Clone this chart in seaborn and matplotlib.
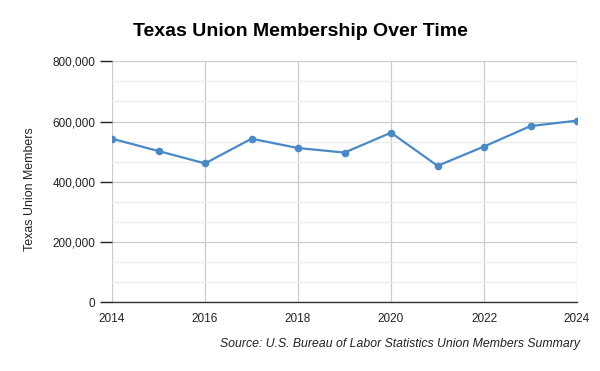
import matplotlib
matplotlib.use("Agg")
import matplotlib.pyplot as plt
import seaborn as sns
import pandas as pd
from matplotlib.ticker import FuncFormatter, MultipleLocator

years = [2014, 2015, 2016, 2017, 2018, 2019, 2020, 2021, 2022, 2023, 2024]
members = [543000, 502000, 461000, 543000, 512000, 497000, 563000, 453000, 517000, 585000, 603000]
y_ticks = [0, 200000, 400000, 600000, 800000]
x_ticks = [2014, 2016, 2018, 2020, 2022, 2024]

df = pd.DataFrame({"Year": years, "Members": members})

sns.set_theme(style="white")
plt.rcParams['font.family'] = ['Liberation Sans', 'DejaVu Sans']

fig = plt.figure(figsize=(6, 3.71), dpi=100)
ax = fig.add_axes([0.1867, 0.1852, 0.775, 0.6496])

sns.lineplot(data=df, x="Year", y="Members", ax=ax, color="#4a89c8",
             linewidth=1.6, marker="o", markersize=5.5, markeredgewidth=0, zorder=3)

ax.set_xlim(2014, 2024)
ax.set_ylim(0, 800000)
ax.set_xticks(x_ticks)
ax.set_yticks(y_ticks)
ax.yaxis.set_minor_locator(MultipleLocator(200000 / 3))
ax.yaxis.set_major_formatter(FuncFormatter(lambda v, p: f"{int(v):,}"))

ax.grid(True, which="major", color="#cccccc", linewidth=0.9)
ax.grid(True, which="minor", axis="y", color="#ebebeb", linewidth=0.9)
ax.set_axisbelow(True)

for s in ["top", "right", "left"]:
    ax.spines[s].set_visible(False)
ax.spines["bottom"].set_color("#333333")
ax.spines["bottom"].set_linewidth(1.0)

ax.tick_params(axis="y", which="major", left=True, length=9, width=1.0, color="#222222",
               labelsize=8.5, labelcolor="#222222", pad=3)
ax.tick_params(axis="y", which="minor", left=False)
ax.tick_params(axis="x", bottom=False, labelsize=8.5, labelcolor="#222222", pad=2)

ax.set_xlabel("")
ax.set_ylabel("Texas Union Members", fontsize=8.9, color="#222222")
ax.yaxis.set_label_coords(-0.164, 0.47)

fig.text(0.5, 0.916, "Texas Union Membership Over Time", ha="center", va="center",
         fontsize=14, fontweight="bold", color="#000000")
fig.text(0.967, 0.073, "Source: U.S. Bureau of Labor Statistics Union Members Summary",
         ha="right", va="center", fontsize=8.8, style="italic", color="#222222")

fig.savefig("out.png", dpi=100)
